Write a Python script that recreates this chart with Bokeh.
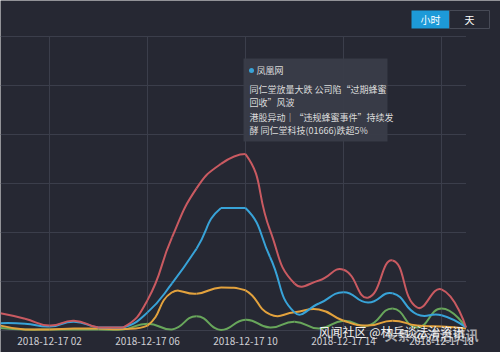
from bokeh.plotting import figure
from bokeh.models import FixedTicker, Range1d
from bokeh.core.properties import value
from bokeh.embed import file_html
from bokeh.resources import INLINE

# ---------------- data ----------------
hours = list(range(20))
red = [3.5, 2.4, 1.0, 2.0, 0.6, 0.6, 6.2, 19.0, 29.0, 34.0, 36.0, 20.5, 9.6, 10.2, 12.4, 6.7, 14.3, 4.7, 8.4, 0.6]
blue = [1.5, 1.4, 0.8, 1.8, 0.6, 0.6, 3.7, 9.6, 16.7, 25.0, 25.0, 15.0, 3.7, 5.5, 7.8, 5.7, 7.6, 3.3, 3.1, 0.6]
orange = [1.0, 0.2, 0.2, 0.4, 0.4, 0.3, 1.0, 7.8, 7.5, 8.8, 8.2, 3.3, 3.7, 4.3, 2.0, 1.0, 2.0, 1.0, 0.8, 0.4]
green = [0.5, 0.2, 0.2, 0.2, 0.2, 0.2, 1.4, 0.2, 2.9, 0.1, 2.2, 0.6, 1.8, 0.4, 2.0, 1.0, 4.5, 0.6, 4.5, 0.6]
tick_hours = [2, 6, 10, 14, 18]
tick_labels = ["2018-12-17 02", "2018-12-17 06", "2018-12-17 10", "2018-12-17 14", "2018-12-17 18"]
grid_values = [0, 10, 20, 30, 40, 50, 60]
tip_source = "凤凰网"
tip_lines = ["同仁堂放量大跌 公司陷“过期蜂蜜", "回收”风波", "港股异动｜“违规蜂蜜事件”持续发", "酵 同仁堂科技(01666)跌超5%"]

# ---------------- layout ----------------
W, H = 500, 352
BASE = 330          # pixel row of value 0
PXH = 24.5          # px per hour
PXU = 4.9           # px per value unit
BG = "#262833"
GRID = "#3b3e4b"
CJK = "Noto Sans CJK SC"

def X(px):
    return px / PXH

def Y(py):
    return (BASE - py) / PXU

p = figure(width=W, height=H, x_range=Range1d(0, W / PXH), y_range=Range1d(Y(H), Y(0)),
           output_backend="svg", toolbar_location=None, y_axis_location=None,
           min_border_left=0, min_border_right=0, min_border_top=0, min_border_bottom=0)
p.background_fill_color = BG
p.border_fill_color = BG
p.outline_line_color = None
p.grid.visible = False

ax = p.xaxis[0]
ax.fixed_location = Y(323)
ax.ticker = FixedTicker(ticks=tick_hours)
ax.major_label_overrides = {h: l for h, l in zip(tick_hours, tick_labels)}
ax.axis_line_color = None
ax.major_tick_line_color = None
ax.minor_tick_line_color = None
ax.major_label_text_color = "#cfcfd3"
ax.major_label_text_font = CJK
ax.major_label_text_font_size = "10px"
ax.major_label_standoff = 3

# grid lines (limited to the data area)
last_h = hours[-1]
p.segment(x0=[0] * len(grid_values), x1=[last_h] * len(grid_values), y0=grid_values, y1=grid_values,
          line_color=GRID, line_width=1)
p.segment(x0=tick_hours, x1=tick_hours, y0=[0] * len(tick_hours), y1=[grid_values[-1]] * len(tick_hours),
          line_color=GRID, line_width=1)

# smooth curves (echarts-like bezier with bounding-box constraint)
def bezier_parts(xs, ys, smooth=0.5):
    P = [(x * PXH, y * PXU) for x, y in zip(xs, ys)]
    n = len(P)
    mnx, mxx = min(q[0] for q in P), max(q[0] for q in P)
    mny, mxy = min(q[1] for q in P), max(q[1] for q in P)
    cps = []
    for i in range(n):
        px_, py_ = P[i]
        if i == 0 or i == n - 1:
            cps.append((px_, py_))
            continue
        ax_, ay_ = P[i - 1]
        bx_, by_ = P[i + 1]
        vx, vy = (bx_ - ax_) * smooth, (by_ - ay_) * smooth
        d0 = ((px_ - ax_) ** 2 + (py_ - ay_) ** 2) ** 0.5
        d1 = ((px_ - bx_) ** 2 + (py_ - by_) ** 2) ** 0.5
        s = d0 + d1
        if s:
            d0 /= s
            d1 /= s
        c0 = (px_ - vx * d0, py_ - vy * d0)
        c1 = (px_ + vx * d1, py_ + vy * d1)
        def clamp(c):
            return (min(max(c[0], mnx), mxx), min(max(c[1], mny), mxy))
        cps.append(clamp(c0))
        cps.append(clamp(c1))
    out = dict(x0=[], y0=[], x1=[], y1=[], cx0=[], cy0=[], cx1=[], cy1=[])
    for i in range(n - 1):
        a, b = P[i], P[i + 1]
        c0, c1 = cps[2 * i], cps[2 * i + 1]
        out["x0"].append(a[0] / PXH); out["y0"].append(a[1] / PXU)
        out["x1"].append(b[0] / PXH); out["y1"].append(b[1] / PXU)
        out["cx0"].append(c0[0] / PXH); out["cy0"].append(c0[1] / PXU)
        out["cx1"].append(c1[0] / PXH); out["cy1"].append(c1[1] / PXU)
    return out

series = [(green, "#68a65b"), (orange, "#e3a23d"), (blue, "#38a3d8"), (red, "#c95a61")]
for ys, col in series:
    p.bezier(**bezier_parts(hours, ys), line_color=col, line_width=2)

# toggle buttons
p.quad(left=[X(411)], right=[X(449)], top=[Y(10)], bottom=[Y(28)], fill_color="#1d9ad8", line_color=None)
p.quad(left=[X(449)], right=[X(489)], top=[Y(10)], bottom=[Y(28)], fill_color=BG, line_color="#474a56")
p.text(x=[X(430), X(469)], y=[Y(19), Y(19)], text=["小时", "天"], text_align="center",
       text_baseline="middle", text_color="#ffffff", text_font_size="10px", text_font=value(CJK))

# tooltip box
p.quad(left=[X(243)], right=[X(387)], top=[Y(58)], bottom=[Y(141)], fill_color="#393c48",
       fill_alpha=0.96, line_color=None)
p.scatter(x=[X(251)], y=[Y(70)], size=5, fill_color="#38a3d8", line_color=None)
p.text(x=[X(256)], y=[Y(70)], text=[tip_source], text_baseline="middle", text_color="#dcdcdc",
       text_font_size="9px", text_font=value(CJK))
p.text(x=[X(249)] * 4, y=[Y(89), Y(102), Y(117), Y(130)], text=tip_lines, text_baseline="middle",
       text_color="#dcdcdc", text_font_size="9px", text_font=value(CJK))

# watermark
p.text(x=[X(318)], y=[Y(331)], text=["风闻社区 @林兵谈法治资讯"], text_color="#f2f2f2",
       text_font_size="12px", text_font=value(CJK), text_baseline="middle", level="overlay")
p.text(x=[X(384)], y=[Y(334)], text=["头条 @法治资讯"], text_color="#ffffff", text_alpha=0.6,
       text_font_size="13px", text_font=value(CJK), text_font_style="bold", text_baseline="middle",
       level="overlay")

open("out.html", "w").write(file_html(p, INLINE))
